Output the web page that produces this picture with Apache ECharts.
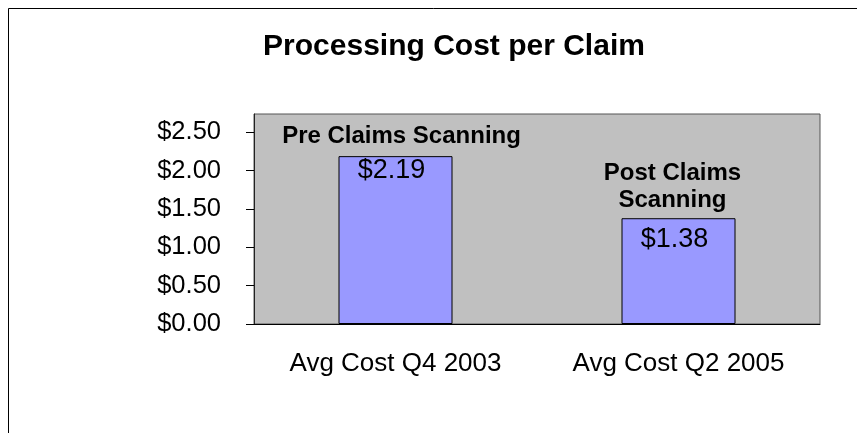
<!DOCTYPE html>
<html>
<head>
<meta charset="utf-8">
<style>
  html, body { margin: 0; padding: 0; background: #fff; }
  #main { width: 857px; height: 433px; }
</style>
<script src="https://cdn.jsdelivr.net/npm/echarts@6/dist/echarts.min.js"></script>
</head>
<body>
<div id="main"></div>
<script>
const categories = ['Avg Cost Q4 2003', 'Avg Cost Q2 2005'];
const costs = [2.19, 1.38];
const notes = ['Pre Claims Scanning', 'Post Claims\nScanning'];
const yTicks = [0, 0.5, 1, 1.5, 2, 2.5];

const chart = echarts.init(document.getElementById('main'), null, { renderer: 'canvas' });

const font = 'Liberation Sans, Arial, sans-serif';
// nudges so labels sit where the original put them
const noteOffsets = [[6, 0], [-6, 2]];
const valueOffsets = [[-4, 0], [-4, 7]];

const option = {
  animation: false,
  backgroundColor: '#fff',
  textStyle: { fontFamily: font },
  graphic: [{
    type: 'rect',
    shape: { x: 8.5, y: 8.5, width: 1000, height: 1000 },
    style: { fill: 'none', stroke: '#000', lineWidth: 1 }
  }],
  title: {
    text: 'Processing Cost per Claim',
    left: 449,
    textAlign: 'center',
    top: 27,
    textStyle: { fontFamily: font, fontSize: 30, fontWeight: 'bold', color: '#000' }
  },
  grid: {
    left: 254, right: 37, top: 114, bottom: 109,
    show: true,
    backgroundColor: '#c0c0c0',
    borderColor: '#555',
    borderWidth: 1
  },
  xAxis: {
    type: 'category',
    data: categories,
    axisLine: { lineStyle: { color: '#000', width: 1 } },
    axisTick: { interval: 0, length: 9, lineStyle: { color: '#000' } },
    axisLabel: { margin: 27, fontSize: 26, color: '#000', fontFamily: font }
  },
  yAxis: {
    type: 'value',
    min: 0,
    max: 2.74,
    interval: 0.5,
    splitLine: { show: false },
    axisLine: { show: true, lineStyle: { color: '#222' } },
    axisTick: { show: true, length: 8, customValues: yTicks, lineStyle: { color: '#000' } },
    axisLabel: {
      customValues: yTicks,
      margin: 33,
      fontSize: 25.5,
      color: '#000',
      fontFamily: font,
      formatter: v => '$' + v.toFixed(2)
    }
  },
  series: [
    {
      type: 'bar',
      data: costs.map((v, i) => ({
        value: v,
        label: { offset: valueOffsets[i] }
      })),
      barWidth: 114,
      itemStyle: { color: '#9999ff', borderColor: '#000', borderWidth: 1 },
      label: {
        show: true,
        position: 'insideTop',
        distance: 1,
        fontSize: 27,
        color: '#000',
        fontFamily: font,
        formatter: p => '$' + p.value.toFixed(2)
      }
    },
    {
      type: 'bar',
      barGap: '-100%',
      barWidth: 114,
      silent: true,
      data: costs.map((v, i) => ({
        value: v,
        label: { offset: noteOffsets[i] }
      })),
      itemStyle: { color: 'rgba(0,0,0,0)' },
      label: {
        show: true,
        position: 'top',
        distance: 6,
        fontSize: 24,
        lineHeight: 27,
        fontWeight: 'bold',
        color: '#000',
        fontFamily: font,
        align: 'center',
        formatter: p => notes[p.dataIndex]
      }
    }
  ]
};

chart.setOption(option);
</script>
</body>
</html>
